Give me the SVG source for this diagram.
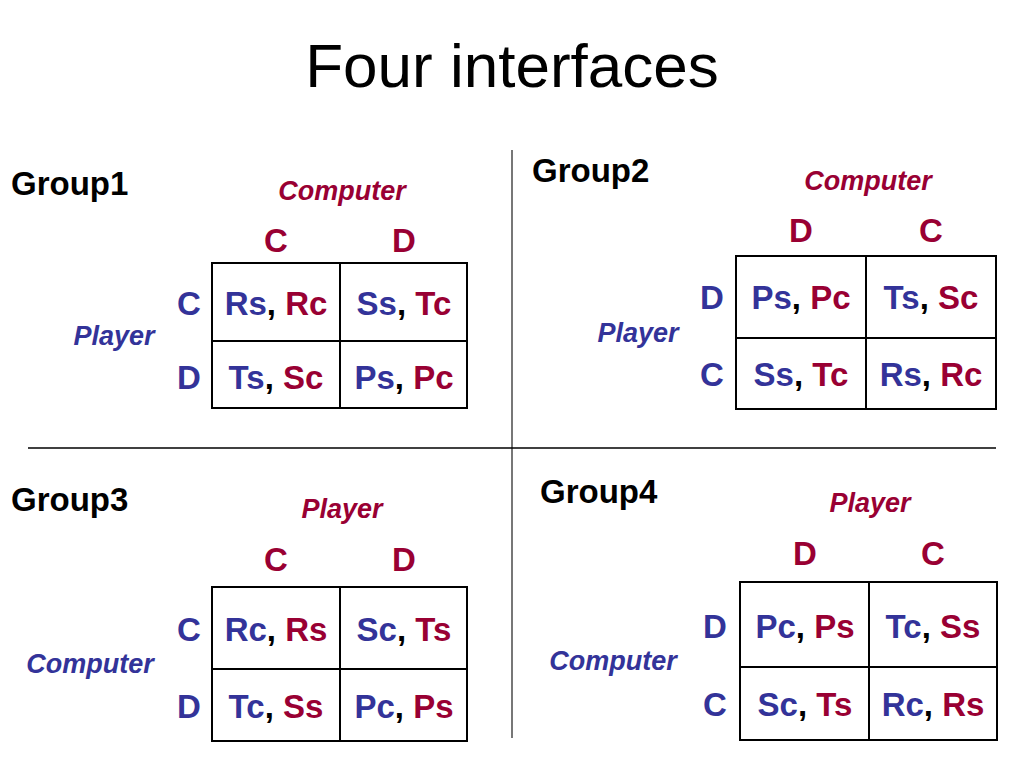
<svg xmlns="http://www.w3.org/2000/svg" width="1024" height="768" viewBox="0 0 1024 768">
<style>
text{font-family:"Liberation Sans",Arial,sans-serif}
.title{font-size:62px;fill:#000}
.grp{font-size:33px;font-weight:bold;fill:#000}
.axis{font-size:27px;font-weight:bold;font-style:italic}
.hd{font-size:33px;font-weight:bold;text-anchor:middle}
.cell{font-size:33px;font-weight:bold;text-anchor:middle;fill:#000}
.b{fill:#333399}
.r{fill:#990033}
.tbl{fill:none;stroke:#000;stroke-width:2}
.div{stroke:#000;stroke-width:1.5}
.divv{stroke:#777;stroke-width:2}
</style>
<rect width="1024" height="768" fill="#fff"/>
<text class="title" x="512" y="87" text-anchor="middle">Four interfaces</text>
<g id="connectors">
<line class="divv" x1="512" y1="150" x2="512" y2="738"/>
<line class="div" x1="28" y1="448" x2="996" y2="448"/>
</g>
<g id="group1">
<text class="grp" x="11" y="195">Group1</text>
<text class="axis r" x="342" y="200" text-anchor="middle">Computer</text>
<text class="axis b" x="114" y="345" text-anchor="middle">Player</text>
<text class="hd r" x="276" y="252">C</text>
<text class="hd r" x="404" y="252">D</text>
<text class="hd b" x="189" y="315">C</text>
<text class="hd b" x="189" y="389">D</text>
<rect class="tbl" x="212" y="263" width="255" height="145"/>
<line class="tbl" x1="340" y1="263" x2="340" y2="408"/>
<line class="tbl" x1="212" y1="341" x2="467" y2="341"/>
<text class="cell" x="276" y="315"><tspan class="b">Rs</tspan>, <tspan class="r">Rc</tspan></text>
<text class="cell" x="404" y="315"><tspan class="b">Ss</tspan>, <tspan class="r">Tc</tspan></text>
<text class="cell" x="276" y="389"><tspan class="b">Ts</tspan>, <tspan class="r">Sc</tspan></text>
<text class="cell" x="404" y="389"><tspan class="b">Ps</tspan>, <tspan class="r">Pc</tspan></text>
</g>
<g id="group2">
<text class="grp" x="532" y="182">Group2</text>
<text class="axis r" x="868" y="190" text-anchor="middle">Computer</text>
<text class="axis b" x="638" y="342" text-anchor="middle">Player</text>
<text class="hd r" x="801" y="242">D</text>
<text class="hd r" x="931" y="242">C</text>
<text class="hd b" x="712" y="309">D</text>
<text class="hd b" x="712" y="386">C</text>
<rect class="tbl" x="736" y="256" width="260" height="153"/>
<line class="tbl" x1="866" y1="256" x2="866" y2="409"/>
<line class="tbl" x1="736" y1="338" x2="996" y2="338"/>
<text class="cell" x="801" y="309"><tspan class="b">Ps</tspan>, <tspan class="r">Pc</tspan></text>
<text class="cell" x="931" y="309"><tspan class="b">Ts</tspan>, <tspan class="r">Sc</tspan></text>
<text class="cell" x="801" y="386"><tspan class="b">Ss</tspan>, <tspan class="r">Tc</tspan></text>
<text class="cell" x="931" y="386"><tspan class="b">Rs</tspan>, <tspan class="r">Rc</tspan></text>
</g>
<g id="group3">
<text class="grp" x="11" y="511">Group3</text>
<text class="axis r" x="342" y="518" text-anchor="middle">Player</text>
<text class="axis b" x="90" y="673" text-anchor="middle">Computer</text>
<text class="hd r" x="276" y="571">C</text>
<text class="hd r" x="404" y="571">D</text>
<text class="hd b" x="189" y="641">C</text>
<text class="hd b" x="189" y="718">D</text>
<rect class="tbl" x="212" y="587" width="255" height="154"/>
<line class="tbl" x1="340" y1="587" x2="340" y2="741"/>
<line class="tbl" x1="212" y1="669" x2="467" y2="669"/>
<text class="cell" x="276" y="641"><tspan class="b">Rc</tspan>, <tspan class="r">Rs</tspan></text>
<text class="cell" x="404" y="641"><tspan class="b">Sc</tspan>, <tspan class="r">Ts</tspan></text>
<text class="cell" x="276" y="718"><tspan class="b">Tc</tspan>, <tspan class="r">Ss</tspan></text>
<text class="cell" x="404" y="718"><tspan class="b">Pc</tspan>, <tspan class="r">Ps</tspan></text>
</g>
<g id="group4">
<text class="grp" x="540" y="503">Group4</text>
<text class="axis r" x="870" y="512" text-anchor="middle">Player</text>
<text class="axis b" x="613" y="670" text-anchor="middle">Computer</text>
<text class="hd r" x="805" y="565">D</text>
<text class="hd r" x="933" y="565">C</text>
<text class="hd b" x="715" y="638">D</text>
<text class="hd b" x="715" y="716">C</text>
<rect class="tbl" x="740" y="582" width="257" height="158"/>
<line class="tbl" x1="869" y1="582" x2="869" y2="740"/>
<line class="tbl" x1="740" y1="667" x2="997" y2="667"/>
<text class="cell" x="805" y="638"><tspan class="b">Pc</tspan>, <tspan class="r">Ps</tspan></text>
<text class="cell" x="933" y="638"><tspan class="b">Tc</tspan>, <tspan class="r">Ss</tspan></text>
<text class="cell" x="805" y="716"><tspan class="b">Sc</tspan>, <tspan class="r">Ts</tspan></text>
<text class="cell" x="933" y="716"><tspan class="b">Rc</tspan>, <tspan class="r">Rs</tspan></text>
</g>
</svg>
